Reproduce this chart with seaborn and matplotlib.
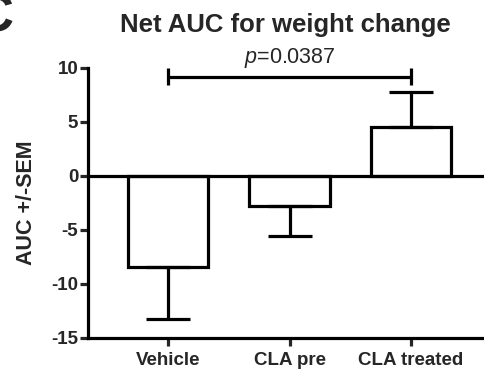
import matplotlib
matplotlib.use("Agg")
import matplotlib.pyplot as plt
import seaborn as sns
import pandas as pd
import numpy as np

# Group means and standard errors of net AUC for weight change
groups = ["Vehicle", "CLA pre", "CLA treated"]
auc_mean = [-8.4, -2.8, 4.5]
auc_sem = [4.8, 2.8, 3.3]
y_ticks = [-15, -10, -5, 0, 5, 10]
p_label = "$\\mathit{p}$=0.0387"

sns.set_theme(style="white")
plt.rcParams["font.family"] = ["Liberation Sans", "DejaVu Sans"]
plt.rcParams["mathtext.fontset"] = "custom"
plt.rcParams["mathtext.it"] = "Liberation Sans:italic"
plt.rcParams["mathtext.rm"] = "Liberation Sans"

LW = 2.3
df = pd.DataFrame({"group": groups, "auc": auc_mean})

fig = plt.figure(figsize=(4.85, 3.73), dpi=100)
ax = fig.add_axes([88 / 485, 35 / 373, 397 / 485, 270 / 373])

sns.barplot(data=df, x="group", y="auc", color="white", edgecolor="black",
            linewidth=LW, width=0.66, errorbar=None, ax=ax, zorder=2)
for p in ax.patches:
    p.set_facecolor("white")
    p.set_edgecolor("black")

# one-sided error bars pointing away from zero
means = np.array(auc_mean)
sems = np.array(auc_sem)
lower = np.where(means < 0, sems, 0)
upper = np.where(means >= 0, sems, 0)
ax.errorbar(np.arange(len(groups)), means, yerr=[lower, upper], fmt="none",
            ecolor="black", elinewidth=LW, capsize=15.5, capthick=LW, zorder=3)

ax.axhline(0, color="black", lw=LW, zorder=4)

ax.set_ylim(-15, 10)
ax.set_xlim(-0.66, 2.61)
ax.set_yticks(y_ticks)
ax.set_yticklabels([str(t) for t in y_ticks], fontsize=13.5, fontweight="bold")
ax.set_xticks(range(len(groups)))
ax.set_xticklabels(groups, fontsize=13.5, fontweight="bold")
ax.set_xlabel("")
ax.set_ylabel("AUC +/-SEM", fontsize=15.5, fontweight="bold", labelpad=10)
ax.tick_params(axis="y", direction="out", length=6, width=LW, pad=1, left=True)
ax.tick_params(axis="x", direction="out", length=6, width=LW, pad=4, bottom=True)

sns.despine(ax=ax)
for s in ("left", "bottom"):
    ax.spines[s].set_linewidth(LW)
    ax.spines[s].set_color("black")

# significance bracket between Vehicle and CLA treated
yb = 9.2
ax.plot([0, 2], [yb, yb], color="black", lw=LW, clip_on=False, solid_capstyle="butt")
ax.vlines([0, 2], yb - 0.8, yb + 0.8, color="black", lw=LW, clip_on=False)
ax.text(1, yb + 0.6, p_label, ha="center", va="bottom", fontsize=15.5)

fig.text(285 / 485, 1 - 25 / 373, "Net AUC for weight change", ha="center",
         va="center", fontsize=18.5, fontweight="bold")
fig.text(-24 / 485, 1 - 18 / 373, "C", ha="left", va="center", fontsize=38,
         fontweight="bold")

fig.savefig("out.png", dpi=100)
